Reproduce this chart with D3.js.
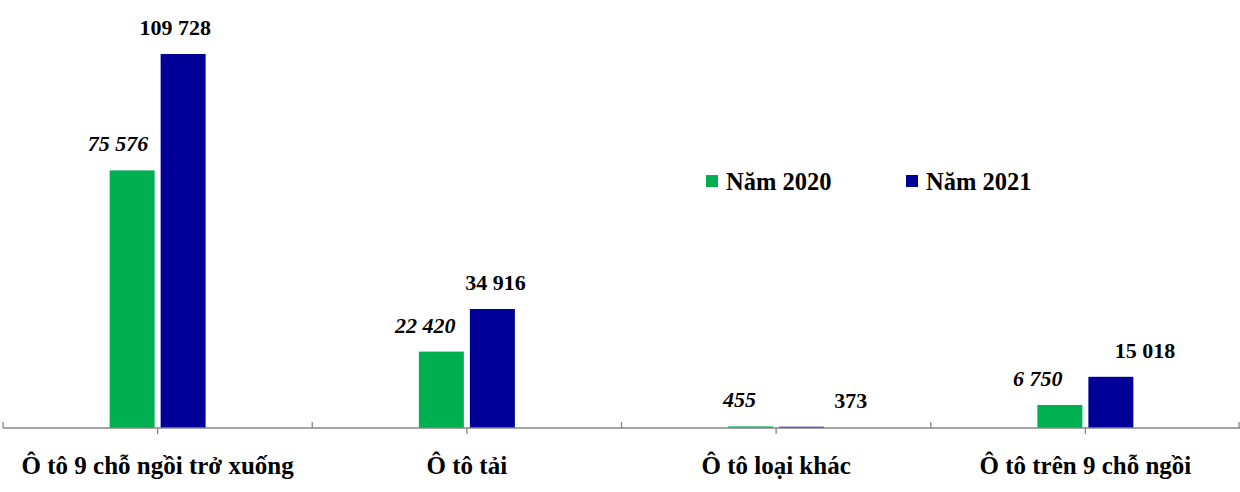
<!DOCTYPE html>
<html>
<head>
  <meta charset="utf-8">
  <title>Ô tô</title>
  <script src="https://d3js.org/d3.v7.min.js"></script>
  <style>
    body { margin: 0; background: #fff; }
    text { font-family: "Liberation Serif", "Times New Roman", serif; font-weight: bold; fill: #000; }
    .axis line { stroke: #868686; stroke-width: 1.3px; }
  </style>
</head>
<body>
  <script>
    var categories = ["Ô tô 9 chỗ ngồi trở xuống", "Ô tô tải", "Ô tô loại khác", "Ô tô trên 9 chỗ ngồi"];
    var series = ["Năm 2020", "Năm 2021"];
    var values2020 = [75576, 22420, 455, 6750];
    var values2021 = [109728, 34916, 373, 15018];
    var labels2020 = ["75 576", "22 420", "455", "6 750"];
    var labels2021 = ["109 728", "34 916", "373", "15 018"];
    var colors = ["#00b050", "#000099"];
    // hand-placed label shifts, as in the original chart
    var nudge2020 = [-14, -16, -11, -22];
    var nudge2021 = [-8, 3, 49, 34];

    var W = 1240, H = 492;
    var svg = d3.select("body").append("svg")
        .attr("width", W)
        .attr("height", H);

    var x0 = d3.scaleBand().domain(categories).range([3, 1240]);
    var x1 = d3.scaleBand().domain(series)
        .range([x0.bandwidth() / 2 - 48, x0.bandwidth() / 2 + 48])
        .paddingInner(0.118);
    var y = d3.scaleLinear().domain([0, 120000]).range([428, 19]);

    var rows = categories.map(function(c, i) {
        return {
            cat: c,
            items: [
                {s: series[0], v: values2020[i], label: labels2020[i], dx: nudge2020[i], italic: true},
                {s: series[1], v: values2021[i], label: labels2021[i], dx: nudge2021[i], italic: false}
            ]
        };
    });

    var group = svg.append("g").selectAll("g")
        .data(rows)
        .enter().append("g")
        .attr("transform", function(d) { return "translate(" + x0(d.cat) + ",0)"; });

    group.selectAll("rect")
        .data(function(d) { return d.items; })
        .enter().append("rect")
        .attr("x", function(d) { return x1(d.s); })
        .attr("width", x1.bandwidth())
        .attr("y", function(d) { return y(d.v); })
        .attr("height", function(d) { return y(0) - y(d.v); })
        .attr("fill", function(d, i) { return colors[i]; });

    group.selectAll("text")
        .data(function(d) { return d.items; })
        .enter().append("text")
        .attr("x", function(d) { return x1(d.s) + x1.bandwidth() / 2 + d.dx; })
        .attr("y", function(d) { return y(d.v) - 19; })
        .attr("text-anchor", "middle")
        .style("font-size", "22px")
        .style("font-style", function(d) { return d.italic ? "italic" : "normal"; })
        .text(function(d) { return d.label; });

    // axis: baseline, upward ticks at boundaries, downward ticks at centres
    var axis = svg.append("g").attr("class", "axis");
    axis.append("line")
        .attr("x1", x0.range()[0]).attr("x2", x0.range()[1])
        .attr("y1", y(0)).attr("y2", y(0));

    var bounds = categories.map(function(c) { return x0(c); }).concat([x0.range()[1] - 1]);
    axis.selectAll(".bt")
        .data(bounds)
        .enter().append("line")
        .attr("class", "bt")
        .attr("x1", function(d) { return d; }).attr("x2", function(d) { return d; })
        .attr("y1", y(0) - 6).attr("y2", y(0));

    axis.selectAll(".ct")
        .data(categories)
        .enter().append("line")
        .attr("class", "ct")
        .attr("x1", function(d) { return x0(d) + x0.bandwidth() / 2; })
        .attr("x2", function(d) { return x0(d) + x0.bandwidth() / 2; })
        .attr("y1", y(0)).attr("y2", y(0) + 6);

    svg.append("g").selectAll("text")
        .data(categories)
        .enter().append("text")
        .attr("x", function(d) { return x0(d) + x0.bandwidth() / 2; })
        .attr("y", 474)
        .attr("text-anchor", "middle")
        .style("font-size", "25px")
        .text(function(d) { return d; });

    // legend
    var legend = svg.append("g").selectAll("g")
        .data(series)
        .enter().append("g")
        .attr("transform", function(d, i) { return "translate(" + (706 + i * 200) + ",175)"; });

    legend.append("rect")
        .attr("width", 12).attr("height", 12)
        .attr("fill", function(d, i) { return colors[i]; });

    legend.append("text")
        .attr("x", 20).attr("y", 15)
        .style("font-size", "24.5px")
        .text(function(d) { return d; });
  </script>
</body>
</html>
